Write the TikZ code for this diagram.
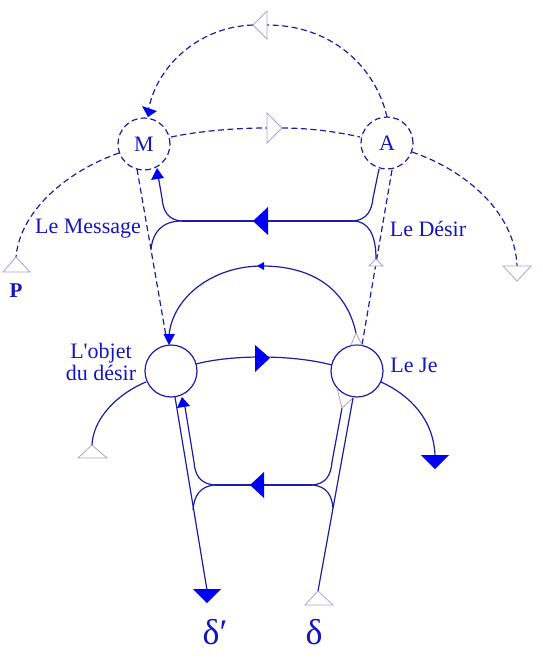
\documentclass[tikz,border=0pt]{standalone}
\usepackage{fontspec}
\setmainfont{Liberation Serif}
\definecolor{linecol}{RGB}{28,28,165}
\definecolor{textcol}{RGB}{20,20,195}
\definecolor{arrowcol}{RGB}{0,0,240}
\definecolor{opencol}{RGB}{165,165,210}
\begin{document}
\begin{tikzpicture}[x=1pt,y=-1pt,
  ln/.style={draw=linecol, line width=1.2pt},
  dsh/.style={ln, dash pattern=on 6pt off 3.5pt},
  opentri/.style={draw=opencol, line width=0.8pt, fill=white, line join=miter},
  opentrin/.style={draw=opencol, line width=0.8pt},
  filltri/.style={fill=arrowcol, draw=none},
  lbl/.style={text=textcol, font=\fontsize{22}{22}\selectfont, inner sep=0pt},
  circ/.style={circle, minimum size=52pt, inner sep=0pt, draw=linecol, line width=1.2pt, text=textcol, font=\fontsize{22}{22}\selectfont},
]
\useasboundingbox (0,0) rectangle (543,659);

% circles
\node[circ, dash pattern=on 6pt off 3.5pt] (M) at (144,144) {M};
\node[circ, dash pattern=on 6pt off 3.5pt] (A) at (387,143) {A};
\node[circ] (obj) at (171,371) {};
\node[circ] (je) at (357,371) {};

% coordinates
\coordinate (Atop) at (387,117);
\coordinate (topR) at (267,25);
\coordinate (topL) at (253,25);
\coordinate (Mtip) at (148,117);
\coordinate (Mr) at (171,137);
\coordinate (Al) at (360,137);
\coordinate (midB) at (267,128);
\coordinate (midT) at (282,128);
\coordinate (Ml) at (119,153);
\coordinate (Ptip) at (16,257);
\coordinate (Ar) at (412,152);
\coordinate (Rtri) at (517,266);
\coordinate (Mb) at (137,169);
\coordinate (objtopB) at (166,336);
\coordinate (Ab) at (392,170);
\coordinate (jetopD) at (362,345);
\coordinate (hL) at (182,221);
\coordinate (hR) at (353,221);
\coordinate (hLj) at (151,249);
\coordinate (hRt) at (376,259);
\coordinate (Mbs) at (158.5,178);
\coordinate (Abs) at (379,169);
\coordinate (jeT) at (356,333);
\coordinate (arcTop) at (262,266);
\coordinate (objT) at (169,336);
\coordinate (objR) at (196,364);
\coordinate (jeL) at (332,365);
\coordinate (objLL) at (146,382);
\coordinate (lt) at (92,445);
\coordinate (jeRR) at (381,382);
\coordinate (rt) at (435,456);
\coordinate (gL) at (215,485);
\coordinate (gR) at (312,485);
\coordinate (objBs) at (185,407);
\coordinate (gLj) at (193,510);
\coordinate (jeBt) at (342,408);
\coordinate (gRj) at (333,508);
\coordinate (objB) at (175,397);
\coordinate (dpe) at (207,590);
\coordinate (dtip) at (318,591);
\coordinate (jeB) at (353,398);

% top dashed arc
\draw[dsh] (Atop) .. controls (375,65) and (330,25) .. (topR);
\draw[dsh] (topL) .. controls (195,27) and (156,70) .. (149,108);
\fill[arrowcol] (Mtip) -- (142,106) -- (157,111) -- cycle;
\draw[opentri] (topL) -- (267,11) -- (267,39) -- cycle;

% middle dashed
\draw[dsh] (Mr) .. controls (200,131) and (235,128) .. (midB);
\draw[dsh] (midT) .. controls (310,128) and (338,132) .. (Al);
\draw[opentri] (midT) -- (267,113) -- (267,143) -- cycle;

% side dashed curves
\draw[dsh] (Ml) .. controls (65,172) and (20,212) .. (Ptip);
\draw[opentri] (Ptip) -- (3,272) -- (30,272) -- cycle;
\draw[dsh] (Ar) .. controls (465,170) and (515,212) .. (Rtri);
\draw[opentri] (503,266) -- (531,266) -- (517,281) -- cycle;

% dashed verticals
\draw[dsh] (Mb) -- (objtopB);
\draw[dsh] (Ab) -- (jetopD);

% upper H
\draw[ln] (hL) -- (hR);
\fill[arrowcol] (253,221) -- (268,207) -- (268,235) -- cycle;
\draw[ln] (hL) .. controls (167,220) and (163,210) .. (162,198) -- (Mbs);
\fill[arrowcol] (157,168) -- (151,180) -- (164,178) -- cycle;
\draw[ln] (hR) .. controls (367,220) and (372,210) .. (373,198) -- (Abs);
\draw[ln] (hL) .. controls (162,221) and (153,232) .. (hLj);
\draw[ln] (hR) .. controls (368,221) and (376,234) .. (hRt);
\draw[opentri] (hRt) -- (369,266) -- (383,266) -- cycle;

% big solid arc
\draw[ln] (jeT) .. controls (346,287) and (310,266) .. (arcTop);
\draw[ln] (arcTop) .. controls (212,266) and (172,298) .. (objT);
\fill[arrowcol] (257,266) -- (264,262) -- (264,270) -- cycle;
\fill[arrowcol] (169,345) -- (163.5,334) -- (175,334) -- cycle;
\draw[opentrin] (jeT) -- (351,345) -- (362,345) -- cycle;

% middle arrow
\draw[ln] (objR) .. controls (230,355) and (290,354) .. (jeL);
\fill[arrowcol] (270,358) -- (255,345) -- (255,372) -- cycle;

% lower side curves
\draw[ln] (objLL) .. controls (115,395) and (93,420) .. (lt);
\draw[opentri] (lt) -- (78,458) -- (107,458) -- cycle;
\draw[ln] (jeRR) .. controls (410,395) and (434,420) .. (rt);
\fill[arrowcol] (421,455) -- (449,455) -- (435,469) -- cycle;

% lower H
\draw[ln] (gL) -- (gR);
\fill[arrowcol] (250,485) -- (264,472) -- (264,498) -- cycle;
\draw[ln] (gL) .. controls (200,484) and (195,475) .. (194,462) -- (objBs);
\fill[arrowcol] (182,397) -- (177,408) -- (190,406) -- cycle;
\draw[ln] (gL) .. controls (200,486) and (194,496) .. (gLj);
\draw[ln] (gR) .. controls (326,484) and (331,475) .. (332,462) -- (jeBt);
\draw[ln] (gR) .. controls (327,486) and (332,496) .. (gRj);
\draw[opentrin] (337,388) -- (jeBt) -- (jeB);

% long lines to deltas
\draw[ln] (objB) -- (dpe);
\fill[arrowcol] (193,589) -- (221,589) -- (207,603) -- cycle;
\draw[ln] (dtip) -- (jeB);
\draw[opentri] (dtip) -- (305,605) -- (333,605) -- cycle;

% labels
\node[lbl] (msg) at (88,229) {Le Message};
\node[lbl] (des) at (428,229) {Le Désir};
\node[lbl, font=\fontsize{21}{21}\selectfont\bfseries] (P) at (16,291) {P};
\node[lbl, align=center] (objlbl) at (101,362) {L\textquotesingle objet\\du désir};
\node[lbl] (jelbl) at (414,365) {Le Je};
\node[lbl, font=\fontsize{36}{36}\selectfont] (dp) at (215,632) {δ′};
\node[lbl, font=\fontsize{36}{36}\selectfont] (d) at (314,632) {δ};
\end{tikzpicture}
\end{document}
